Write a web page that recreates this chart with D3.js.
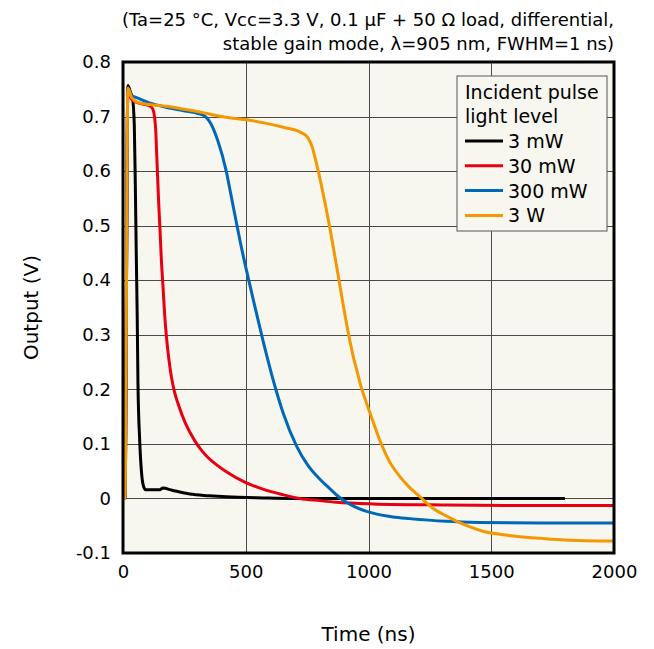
<!DOCTYPE html>
<html>
  <head>
    <meta http-equiv="Content-Type" content="text/html;charset=utf-8">
    <title>Output waveform vs incident light level</title>
    <script type="text/javascript" src="https://d3js.org/d3.v7.min.js"></script>
    <style>
      html, body {
        margin: 0;
        padding: 0;
        background: #fff;
      }

      text {
        font-family: "DejaVu Sans", sans-serif;
        font-size: 18px;
        fill: #000;
      }

      path.line {
        fill: none;
        stroke-width: 3px;
        stroke-linejoin: round;
      }

      .grid line {
        stroke: #4a4a4a;
        stroke-width: 1px;
        shape-rendering: crispEdges;
      }
    </style>
  </head>
  <body>

  <script type="text/javascript">

// time (ns) and output (V)
var t3mW   = [0, 8, 20, 30, 39, 46, 50, 54, 58, 61, 68, 75, 82, 92, 120, 150, 162, 200, 272, 350, 421, 570, 700, 1000, 1400, 1800];
var v3mW   = [0, 0, 0.757, 0.745, 0.733, 0.684, 0.58, 0.45, 0.33, 0.21, 0.106, 0.05, 0.025, 0.016, 0.016, 0.016, 0.019, 0.015, 0.008, 0.005, 0.003, 0.001, 0, 0, 0, 0];

var t30mW  = [0, 8, 20, 30, 50, 80, 107, 121, 132, 138, 145, 150, 156, 163, 170, 177, 187, 197, 210, 224, 255, 292, 320, 346, 380, 421, 496, 570, 650, 719, 800, 869, 1018, 1316, 1600, 2000];
var v30mW  = [0, 0, 0.752, 0.735, 0.727, 0.723, 0.720, 0.714, 0.684, 0.623, 0.545, 0.50, 0.44, 0.388, 0.335, 0.296, 0.255, 0.223, 0.195, 0.174, 0.137, 0.106, 0.088, 0.075, 0.062, 0.049, 0.03, 0.017, 0.007, 0.0, -0.004, -0.007, -0.010, -0.012, -0.013, -0.013];

var t300mW = [0, 8, 20, 35, 53, 107, 175, 243, 311, 338, 358, 386, 420, 440, 460, 480, 503, 537, 571, 618, 652, 707, 754, 800, 840, 876, 910, 943, 1018, 1100, 1167, 1316, 1450, 1700, 2000];
var v300mW = [0, 0, 0.752, 0.738, 0.735, 0.725, 0.717, 0.711, 0.705, 0.699, 0.687, 0.656, 0.601, 0.556, 0.510, 0.465, 0.418, 0.352, 0.288, 0.207, 0.157, 0.096, 0.060, 0.036, 0.019, 0.004, -0.007, -0.015, -0.027, -0.034, -0.037, -0.042, -0.044, -0.045, -0.045];

var t3W    = [0, 8, 20, 35, 60, 107, 175, 243, 318, 379, 447, 505, 589, 657, 720, 752, 770, 788, 815, 842, 876, 900, 917, 935, 955, 971, 990, 1005, 1045, 1085, 1128, 1170, 1210, 1260, 1316, 1400, 1466, 1540, 1615, 1700, 1800, 2000];
var v3W    = [0, 0, 0.752, 0.735, 0.726, 0.722, 0.719, 0.714, 0.708, 0.702, 0.697, 0.694, 0.687, 0.680, 0.672, 0.662, 0.645, 0.614, 0.559, 0.497, 0.41, 0.347, 0.305, 0.266, 0.23, 0.203, 0.177, 0.158, 0.108, 0.068, 0.04, 0.019, 0.003, -0.017, -0.032, -0.05, -0.06, -0.066, -0.07, -0.073, -0.076, -0.078];

var seriesNames  = ["3 mW", "30 mW", "300 mW", "3 W"];
var seriesColors = ["#000000", "#e60012", "#0068b7", "#f39800"];

var xTicks = [0, 500, 1000, 1500, 2000];
var xTickLabels = ["0", "500", "1000", "1500", "2000"];
var yTicks = [-0.1, 0, 0.1, 0.2, 0.3, 0.4, 0.5, 0.6, 0.7, 0.8];
var yTickLabels = ["-0.1", "0", "0.1", "0.2", "0.3", "0.4", "0.5", "0.6", "0.7", "0.8"];

var titleLines = ["(Ta=25 °C, Vcc=3.3 V, 0.1 μF + 50 Ω load, differential,",
                  "stable gain mode, λ=905 nm, FWHM=1 ns)"];
var legendTitle = ["Incident pulse", "light level"];

var W = 654, H = 649;
var margin = {left: 123, right: 40, top: 62, bottom: 96};
var width = W - margin.left - margin.right;
var height = H - margin.top - margin.bottom;

var x = d3.scaleLinear().domain([0, 2000]).range([0, width]);
var y = d3.scaleLinear().domain([-0.1, 0.8]).range([height, 0]);

var series = [
  {t: t3mW, v: v3mW},
  {t: t30mW, v: v30mW},
  {t: t300mW, v: v300mW},
  {t: t3W, v: v3W}
].map(function(s, i) {
  return {name: seriesNames[i], color: seriesColors[i],
          pts: s.t.map(function(tt, j) { return [tt, s.v[j]]; })};
});

var svg = d3.select("body").append("svg").attr("width", W).attr("height", H);

// title, right aligned to the plot frame
svg.append("g").selectAll("text").data(titleLines).enter().append("text")
  .attr("x", margin.left + width)
  .attr("y", function(d, i) { return 26 + i * 24; })
  .attr("text-anchor", "end")
  .text(function(d) { return d; });

var g = svg.append("g").attr("transform", "translate(" + margin.left + "," + margin.top + ")");

g.append("rect").attr("width", width).attr("height", height).attr("fill", "#f7f6ef");

g.append("clipPath").attr("id", "clip")
  .append("rect").attr("width", width).attr("height", height);

// grid
var grid = g.append("g").attr("class", "grid");
grid.selectAll("line.gx").data(xTicks.slice(1, -1)).enter().append("line")
  .attr("x1", function(d) { return Math.round(x(d)) + 0.5; })
  .attr("x2", function(d) { return Math.round(x(d)) + 0.5; })
  .attr("y1", 0).attr("y2", height);
grid.selectAll("line.gy").data(yTicks.slice(1, -1)).enter().append("line")
  .attr("x1", 0).attr("x2", width)
  .attr("y1", function(d) { return Math.round(y(d)) + 0.5; })
  .attr("y2", function(d) { return Math.round(y(d)) + 0.5; });

// axes (labels only)
var xAxis = d3.axisBottom(x).tickValues(xTicks).tickSize(0).tickPadding(12)
  .tickFormat(function(d, i) { return xTickLabels[i]; });
var yAxis = d3.axisLeft(y).tickValues(yTicks).tickSize(0).tickPadding(12)
  .tickFormat(function(d, i) { return yTickLabels[i]; });

var gx = g.append("g").attr("transform", "translate(0," + height + ")").call(xAxis);
var gy = g.append("g").call(yAxis);
gx.select(".domain").remove();
gy.select(".domain").remove();
gx.attr("font-size", null).attr("font-family", null);
gy.attr("font-size", null).attr("font-family", null);

// curves
var line = d3.line()
  .x(function(d) { return x(d[0]); })
  .y(function(d) { return y(d[1]); })
  .curve(d3.curveMonotoneX);

g.append("g").attr("clip-path", "url(#clip)")
  .selectAll("path").data(series).enter().append("path")
  .attr("class", "line")
  .attr("stroke", function(d) { return d.color; })
  .attr("d", function(d) { return line(d.pts); });

// frame
g.append("rect").attr("width", width).attr("height", height)
  .attr("fill", "none").attr("stroke", "#000").attr("stroke-width", 3);

// legend
var lg = g.append("g").attr("transform", "translate(" + (457 - margin.left) + "," + (76 - margin.top) + ")");
lg.append("rect").attr("width", 150).attr("height", 155)
  .attr("fill", "#f7f6ef").attr("stroke", "#555").attr("stroke-width", 1);
lg.selectAll("text.h").data(legendTitle).enter().append("text")
  .attr("x", 8).attr("y", function(d, i) { return 23 + i * 24; })
  .style("font-size", "19px")
  .text(function(d) { return d; });
var items = lg.selectAll("g.item").data(series).enter().append("g")
  .attr("transform", function(d, i) { return "translate(0," + (65 + i * 24.8) + ")"; });
items.append("line").attr("x1", 8).attr("x2", 46).attr("y1", 0).attr("y2", 0)
  .attr("stroke", function(d) { return d.color; }).attr("stroke-width", 3);
items.append("text").attr("x", 51).attr("y", 7).style("font-size", "19px")
  .text(function(d) { return d.name; });

// axis titles
svg.append("text")
  .attr("x", margin.left + width / 2).attr("y", 641)
  .attr("text-anchor", "middle").style("font-size", "20px")
  .text("Time (ns)");
svg.append("text")
  .attr("transform", "translate(38," + (margin.top + height / 2) + ") rotate(-90)")
  .attr("text-anchor", "middle").style("font-size", "20px")
  .text("Output (V)");

  </script>
  </body>
</html>
